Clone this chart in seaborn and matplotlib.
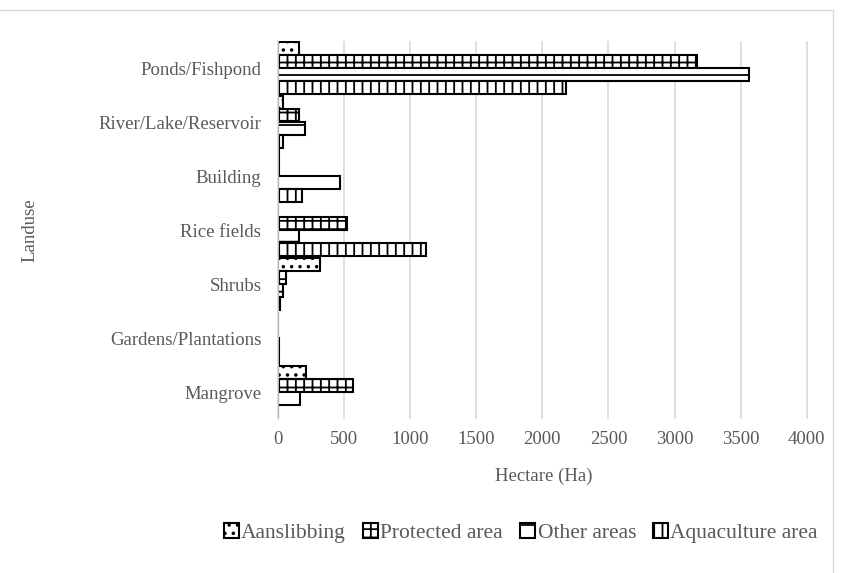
import pandas as pd
import matplotlib.pyplot as plt
import seaborn as sns
from matplotlib.patches import Patch
from matplotlib.lines import Line2D

# Data
landuse = ["Ponds/Fishpond", "River/Lake/Reservoir", "Building", "Rice fields",
           "Shrubs", "Gardens/Plantations", "Mangrove"]
series = ["Aanslibbing", "Protected area", "Other areas", "Aquaculture area"]
aanslibbing = [160, 40, 5, 0, 315, 0, 210]
protected_area = [3170, 160, 10, 520, 60, 0, 570]
other_areas = [3560, 205, 470, 160, 35, 10, 165]
aquaculture_area = [2180, 35, 180, 1120, 15, 5, 0]

values = [aanslibbing, protected_area, other_areas, aquaculture_area]
rows = []
for s, vals in zip(series, values):
    for lu, v in zip(landuse, vals):
        rows.append({"Landuse": lu, "Series": s, "Hectare": v})
df = pd.DataFrame(rows)

hatches = ["..", "++", "-", "||"]

sns.set_theme(style="white")
plt.rcParams['font.family'] = ['Liberation Serif', 'DejaVu Serif']
plt.rcParams['hatch.linewidth'] = 1.3
text_color = "#595959"

fig = plt.figure(figsize=(8.46, 5.73), dpi=100)
ax = fig.add_axes([278 / 846, 1 - 419 / 573, (810 - 278) / 846, (419 - 41) / 573])

sns.barplot(data=df, y="Landuse", x="Hectare", hue="Series", order=landuse,
            hue_order=series, orient="h", width=0.96, ax=ax,
            palette=["white"] * 4, legend=False, saturation=1)

for cont, h in zip(ax.containers, hatches):
    for bar in cont:
        bar.set_facecolor("white")
        bar.set_edgecolor("black")
        bar.set_linewidth(1.5)
        bar.set_hatch(h)

ax.set_xlim(0, 4025)
ax.set_xticks(range(0, 4001, 500))
ax.grid(axis="x", color="#d9d9d9", linewidth=1.2)
ax.set_axisbelow(True)
for side in ["top", "right", "bottom"]:
    ax.spines[side].set_visible(False)
ax.spines["left"].set_color("#d9d9d9")
ax.spines["left"].set_linewidth(1.2)
ax.tick_params(axis="both", length=0, labelsize=13.5, colors=text_color)
ax.tick_params(axis="y", pad=12)
ax.tick_params(axis="x", pad=9)
ax.set_xlabel("Hectare (Ha)", fontsize=13.5, color=text_color)
ax.xaxis.set_label_coords(0.5, -(476 - 419) / 378)
ax.xaxis.label.set_va("center")
ax.set_ylabel("Landuse", fontsize=13.5, color=text_color)
ax.yaxis.set_label_coords((30 - 278) / 532, 0.5)
ax.yaxis.label.set_va("center")

handles = [Patch(facecolor="white", edgecolor="black", hatch=h, linewidth=1.5)
           for h in hatches]
fig.legend(handles, series, loc="center", bbox_to_anchor=(521 / 846, 1 - 533 / 573),
           ncol=4, frameon=False, fontsize=15.5, handlelength=0.7, handleheight=0.7,
           handletextpad=0.1, columnspacing=0.8, labelcolor=text_color)

# light outer border like the source image
fig.add_artist(Line2D([0, 833 / 846], [1 - 10 / 573, 1 - 10 / 573],
                      color="#d9d9d9", linewidth=1, transform=fig.transFigure))
fig.add_artist(Line2D([833 / 846, 833 / 846], [0, 1 - 10 / 573],
                      color="#d9d9d9", linewidth=1, transform=fig.transFigure))

plt.savefig("out.png", dpi=100)
